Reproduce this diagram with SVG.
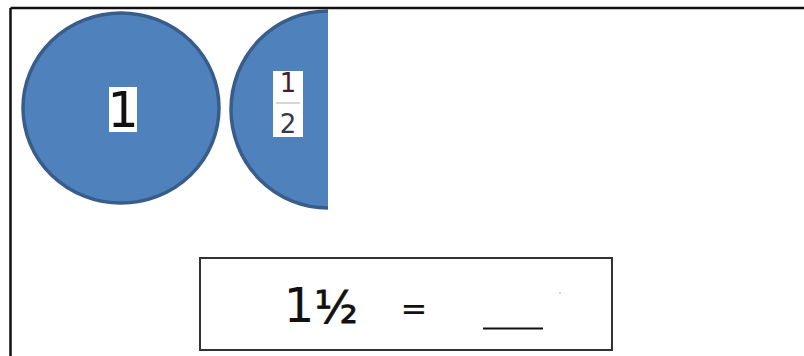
<svg xmlns="http://www.w3.org/2000/svg" width="804" height="356" viewBox="0 0 804 356">
<style>
.disc{fill:#4F81BD;stroke:#385D8A;stroke-width:3.5}
.lbl{fill:#ffffff}
.t{font-family:"DejaVu Sans","Liberation Sans",sans-serif;fill:#111}
</style>
<defs>
<clipPath id="half"><rect x="200" y="0" width="128" height="240"/></clipPath>
</defs>
<rect width="804" height="356" fill="#ffffff"/>
<g id="frame" fill="none" stroke="#111" stroke-width="2.5">
<line x1="10.5" y1="8" x2="804" y2="8"/>
<line x1="10.5" y1="8" x2="10.5" y2="356"/>
</g>
<g id="whole">
<ellipse class="disc" cx="121" cy="108" rx="98" ry="95"/>
<rect class="lbl" x="109" y="87" width="28" height="45"/>
<text class="t" x="123" y="127" font-size="49" text-anchor="middle">1</text>
</g>
<g id="half-disc">
<ellipse class="disc" cx="328" cy="109.5" rx="97" ry="98.5" clip-path="url(#half)"/>
<rect class="lbl" x="273" y="71" width="30" height="66"/>
<text class="t" x="288" y="92" font-size="26" text-anchor="middle" style="fill:#4a1a2a">1</text>
<line x1="276" y1="103" x2="300" y2="103" stroke="#c8c8c8" stroke-width="1.5"/>
<text class="t" x="288" y="133" font-size="26" text-anchor="middle" style="fill:#3a3a4a">2</text>
</g>
<g id="equation">
<rect x="200" y="258" width="412" height="92" fill="#ffffff" stroke="#333" stroke-width="2"/>
<text class="t" x="299" y="322" font-size="48" text-anchor="middle">1</text>
<text class="t" x="336" y="323" font-size="45" text-anchor="middle" stroke="#111" stroke-width="0.8">½</text>
<text class="t" x="414" y="320" font-size="32" text-anchor="middle">=</text>
<line x1="483" y1="328.5" x2="543" y2="328.5" stroke="#111" stroke-width="2"/>
<circle cx="560" cy="293" r="0.8" fill="#aaa"/>
</g>
</svg>
